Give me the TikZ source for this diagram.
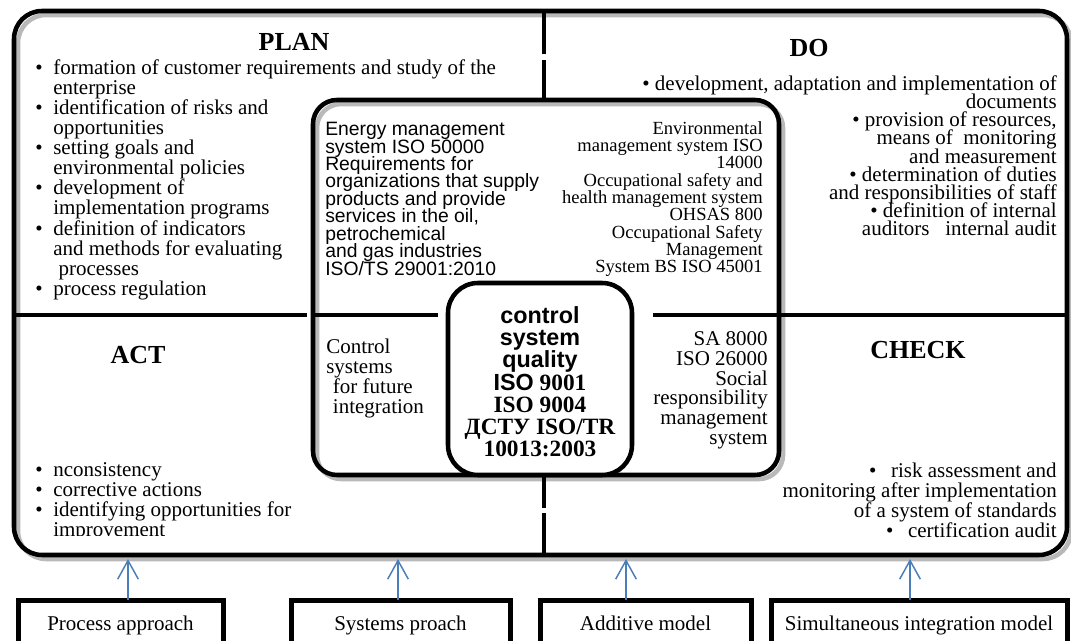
\documentclass[tikz,border=0pt]{standalone}
\usepackage{fontspec}
\setmainfont{Liberation Serif}
\setsansfont{Liberation Sans}
\usepackage{tikz}
\usetikzlibrary{arrows.meta, positioning, calc}

\definecolor{arrowblue}{HTML}{4A7EBB}
\newcommand{\bul}{\makebox[13.5pt][l]{\textbullet}}
\newcommand{\ind}{\hspace*{13.5pt}}

\begin{document}
\begin{tikzpicture}[x=0.75pt, y=-0.75pt,
    every node/.append style={execute at begin node={\lineskiplimit=-100pt\relax}},
    grayedge/.style={draw=gray!55, line width=3.4pt},
    frame/.style={draw, line width=3.4pt, rounded corners=21pt, inner sep=0, outer sep=0},
    divider/.style={line width=3pt},
    corebox/.style={draw, fill=white, line width=3.4pt, rounded corners=22.5pt, inner sep=0, outer sep=0},
    title/.style={inner sep=0, font=\fontsize{19.5}{20}\selectfont\bfseries},
    body/.style={inner sep=0, font=\fontsize{15.75}{15.1}\selectfont},
    bottombox/.style={draw, line width=3.75pt, anchor=north, inner xsep=0, inner ysep=12.2pt, outer sep=0,
        text height=11pt, text depth=4.7pt, font=\fontsize{15.75}{15}\selectfont},
    arr/.style={draw=arrowblue, line width=1.1pt, -{Straight Barb[length=14pt, width=15.5pt]}}]
    \useasboundingbox (0,0) rectangle (1071,641);
    \clip (0,0) rectangle (1071,641);

    % Grey edges under the frames
    \draw[grayedge, rounded corners=21pt] (18,15) rectangle (1071,559);
    \draw[grayedge, rounded corners=18pt] (317,104) rectangle (783,479);

    % Outer frame
    \node[frame, minimum width=789.75pt, minimum height=408pt] (frame) at (540.5,283) {};

    % Quadrant dividers
    \draw[divider] (14,315) -- (307,315);
    \draw[divider] (313,315) -- (438,315);
    \draw[divider] (653,315) -- (1067,315);
    \draw[divider] (544,11) -- (544,54);
    \draw[divider] (544,60) -- (544,100);
    \draw[divider] (544,475) -- (544,508);
    \draw[divider] (544,513) -- (544,555);

    % Standards box and quality core
    \node[frame, rounded corners=18pt, minimum width=349.5pt, minimum height=281.25pt] (standards) at (546,287.5) {};
    \node[corebox, minimum width=138pt, minimum height=144pt] (core) at (540,379) {};

    % Titles
    \node[title] (plan) at (294,42) {PLAN};
    \node[title] (do) at (809,48) {DO};
    \node[title] (act) at (138,355) {ACT};
    \node[title] (check) at (918,350) {CHECK};

    % PLAN
    \node[body, align=left, anchor=north west] (planlist) at (35,59)
        {\bul formation of customer requirements and study of the\\
         \ind enterprise\\
         \bul identification of risks and\\
         \ind opportunities\\
         \bul setting goals and\\
         \ind environmental policies\\
         \bul development of\\
         \ind implementation programs\\
         \bul definition of indicators\\
         \ind and methods for evaluating\\
         \ind\hspace*{4pt}processes\\
         \bul process regulation};

    % DO
    \node[body, align=right, anchor=north east, font=\fontsize{15.75}{13.6}\selectfont] (dolist) at (1057,75.5)
        {\textbullet\ development, adaptation and implementation of\\
         documents\\
         \textbullet\ provision of resources,\\
         means of\ \ monitoring\\
         and measurement\\
         \textbullet\ determination of duties\\
         and responsibilities of staff\\
         \textbullet\ definition of internal\\
         auditors\ \ \ internal audit};

    % Standards to integrate
    \node[inner sep=0, align=left, anchor=north west, font=\sffamily\fontsize{14.5}{13.1}\selectfont] (energy) at (325,122)
        {Energy management\\
         system ISO 50000\\
         Requirements for\\
         organizations that supply\\
         products and provide\\
         services in the oil,\\
         petrochemical\\
         and gas industries\\
         ISO/TS 29001:2010};
    \node[inner sep=0, align=right, anchor=north east, font=\fontsize{13.9}{13}\selectfont] (environ) at (763,121)
        {Environmental\\
         management system ISO\\
         14000\\
         Occupational safety and\\
         health management system\\
         OHSAS 800\\
         Occupational Safety\\
         Management\\
         System BS ISO 45001};
    \node[body, align=left, anchor=north west, font=\fontsize{15.75}{14.8}\selectfont] (future) at (326,339)
        {Control\\
         systems\\
         \hspace*{5pt}for future\\
         \hspace*{5pt}integration};
    \node[body, align=right, anchor=north east, font=\fontsize{15.75}{14.8}\selectfont] (social) at (768,331.5)
        {SA 8000\\
         ISO 26000\\
         Social\\
         responsibility\\
         management\\
         system};
    \node[inner sep=0, align=center, anchor=north, font=\bfseries\fontsize{17.5}{16.6}\selectfont] (quality) at (540,306.5)
        {{\sffamily control}\\
         {\sffamily system}\\
         {\sffamily quality}\\
         {\sffamily ISO} 9001\\
         ISO 9004\\
         ДСТУ ISO/TR\\
         10013:2003};

    % ACT
    \begin{scope}
        \clip (20,440) rectangle (300,535);
        \node[body, align=left, anchor=north west, font=\fontsize{15.75}{15}\selectfont] (actlist) at (35,462.8)
            {\bul nconsistency\\
             \bul corrective actions\\
             \bul identifying opportunities for\\
             \ind improvement};
    \end{scope}

    % CHECK
    \node[body, align=right, anchor=north east] (checklist) at (1057,462.5)
        {\textbullet\hspace{11pt}risk assessment and\\
         monitoring after implementation\\
         of a system of standards\\
         \textbullet\hspace{11pt}certification audit};

    % Integration approaches
    \node[bottombox, minimum width=153.75pt] (process) at (120.5,600) {Process approach};
    \node[bottombox, minimum width=164.25pt] (systems) at (400.5,600) {Systems proach};
    \node[bottombox, minimum width=158.25pt] (additive) at (645.5,600) {Additive model};
    \node[bottombox, minimum width=222pt] (simult) at (919,600) {Simultaneous integration model};

    % Arrows into the frame
    \coordinate (in1) at (128,559);
    \coordinate (in2) at (398,559);
    \coordinate (in3) at (626,559);
    \coordinate (in4) at (910,559);
    \draw[arr] (process.north -| in1) -- (in1);
    \draw[arr] (systems.north -| in2) -- (in2);
    \draw[arr] (additive.north -| in3) -- (in3);
    \draw[arr] (simult.north -| in4) -- (in4);
\end{tikzpicture}
\end{document}
